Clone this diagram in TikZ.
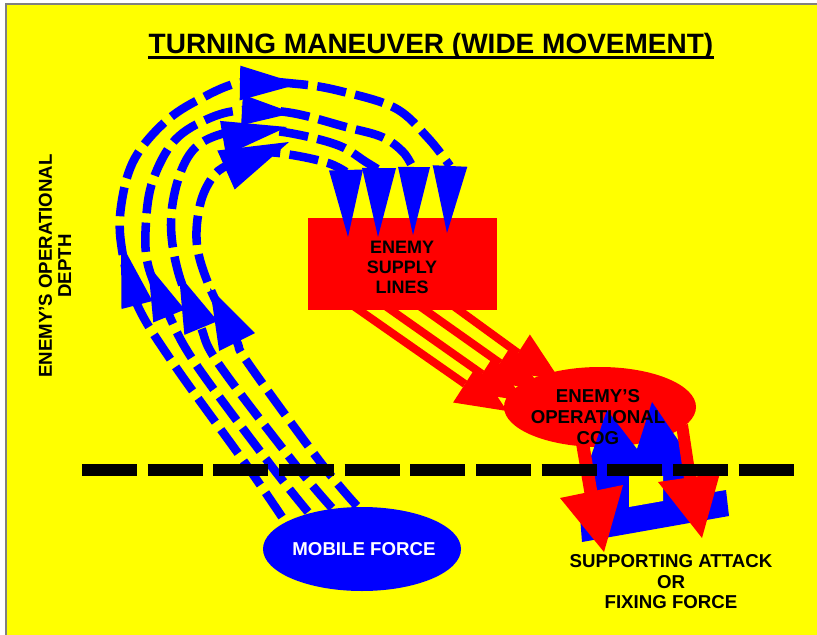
\documentclass[tikz,border=0pt]{standalone}
\usepackage{fontspec}
\setmainfont{Liberation Sans}
\usetikzlibrary{calc,shapes.geometric}
\definecolor{bgyellow}{RGB}{255,255,0}
\definecolor{pblue}{RGB}{0,0,255}
\definecolor{pred}{RGB}{255,0,0}
\definecolor{bordergray}{RGB}{128,128,128}
% #1 tip, #2 base middle, #3 half width, #4 colour
\newcommand{\mkhead}[4]{\fill[#4] (#1) -- ($(#2)!#3!90:(#1)$) -- ($(#2)!#3!-90:(#1)$) -- cycle;}
\begin{document}
\begin{tikzpicture}[x=0.75pt,y=-0.75pt,
  bluedash/.style={draw=pblue, line width=6.4pt, dash pattern=on 22pt off 7pt},
  redshaft/.style={draw=pred, line width=6pt},
  lbl/.style={font=\bfseries\fontsize{14}{15}\selectfont, align=center, inner sep=0pt},
  blackdash/.style={draw=black, line width=9pt, dash pattern=on 41.25pt off 8pt}]
\useasboundingbox (0,0) rectangle (817,635);
\fill[white] (0,0) rectangle (817,635);
\fill[bgyellow] (5,4) rectangle (817,635);
\draw[bordergray, line width=1.5pt] (5.5,635) -- (5.5,4.5) -- (817,4.5);

% title
\node[font=\bfseries\fontsize{21}{24}\selectfont, inner sep=0pt, anchor=base] (title) at (431,53.5) {TURNING MANEUVER (WIDE MOVEMENT)};
\draw[line width=2.25pt] ([yshift=-2.8pt]title.base west) -- ([yshift=-2.8pt]title.base east);

% side label
\node[lbl, rotate=90, font=\bfseries\fontsize{14}{14.5}\selectfont] (depth) at (55,266) {ENEMY’S OPERATIONAL\\DEPTH};

% enemy supply lines box
\node[rectangle, fill=pred, inner sep=0pt, minimum width=141.75pt, minimum height=69pt] (supply) at (402.5,264) {};

% blue dashed movement lines
\draw[bluedash] plot[smooth, tension=0.6] coordinates {(282,517) (245,463) (173,363) (136,302) (121,243) (122,200) (135,158) (165,122) (200,99) (243,82) (298,84) (340,91) (395,108) (428,138) (450,166)};
\draw[bluedash] plot[smooth, tension=0.6] coordinates {(308,512) (269,463) (195,363) (168,313) (148,265) (146,222) (153,180) (175,140) (210,118) (245,110) (292,113) (346,127) (382,137) (403,152) (413,168)};
\draw[bluedash] plot[smooth, tension=0.6] coordinates {(332,508) (294,463) (218,363) (200,325) (179,275) (171,225) (178,180) (195,148) (225,133) (262,130) (300,135) (340,146) (366,162) (379,170)};
\draw[bluedash] plot[smooth, tension=0.6] coordinates {(357,506) (321,463) (248,363) (236,340) (210,288) (197,245) (200,205) (212,178) (228,165) (262,153) (292,155) (328,163) (346,172)};

% blue heads: left
\mkhead{121,243}{137,305}{12pt}{pblue}
\mkhead{148,265}{169,316}{12.75pt}{pblue}
\mkhead{179,275}{201,328}{13.5pt}{pblue}
\mkhead{210,288}{237,342}{15pt}{pblue}
% blue heads: top
\mkhead{299,84}{240,83}{13pt}{pblue}
\mkhead{293,113}{242,110}{11.5pt}{pblue}
\mkhead{287,127}{223,138}{13pt}{pblue}
\mkhead{289,142}{226,170}{16pt}{pblue}
% blue heads: down
\mkhead{348,237}{346,170}{12.75pt}{pblue}
\mkhead{378,237}{379,168}{12.75pt}{pblue}
\mkhead{413,235}{414,167}{12pt}{pblue}
\mkhead{447,233}{450,166}{13pt}{pblue}

% red supply arrows
\draw[redshaft] (352,305) -- (465,384);
\draw[redshaft] (384,305) -- (482,374);
\draw[redshaft] (418,305) -- (500,363);
\draw[redshaft] (452,305) -- (518,353);
\mkhead{507,411}{465,384}{16.5pt}{pred}
\mkhead{524,401}{482,374}{16.5pt}{pred}
\mkhead{542,390}{500,363}{16.5pt}{pred}
\mkhead{560,380}{518,353}{16.5pt}{pred}

% enemy's operational COG blob
\node[ellipse, fill=pred, inner sep=0pt, minimum width=144pt, minimum height=60pt] (cog) at (600,407) {};

% supporting attack (blue)
\fill[pblue] (582,542) -- (729,516) -- (726,490) -- (690,496) -- (693,462) -- (652,402) -- (637,449) -- (607,410) -- (589,462) -- (595,480) -- (597,513) -- (580,516) -- cycle;
\fill[bgyellow] (629,476) -- (663,476) -- (663,501) -- (629,507) -- cycle;

% red down arrows
\draw[pred, line width=9.75pt] (582,440) -- (591,493);
\fill[pred] (560,498) -- (623,485) -- (604,552) -- cycle;
\draw[pred, line width=9pt] (682,425) -- (690,478);
\fill[pred] (658,482) -- (720,473) -- (702,538) -- cycle;

% front line
\draw[blackdash] (82,470) -- (794,470);

% mobile force
\node[ellipse, fill=pblue, inner sep=0pt, minimum width=148.5pt, minimum height=63pt] (mobile) at (362,549) {};

% texts
\node[lbl, font=\bfseries\fontsize{13.5}{15}\selectfont] (supplytxt) at (402,267) {ENEMY\\SUPPLY\\LINES};
\node[lbl, font=\bfseries\fontsize{14}{15.5}\selectfont] (cogtxt) at (598,417) {ENEMY’S\\OPERATIONAL\\COG};
\node[lbl, text=white] (mobiletxt) at (364,549) {MOBILE FORCE};
\node[lbl, font=\bfseries\fontsize{14}{15.4}\selectfont] (support) at (671,582) {SUPPORTING ATTACK\\OR\\FIXING FORCE};
\end{tikzpicture}
\end{document}
